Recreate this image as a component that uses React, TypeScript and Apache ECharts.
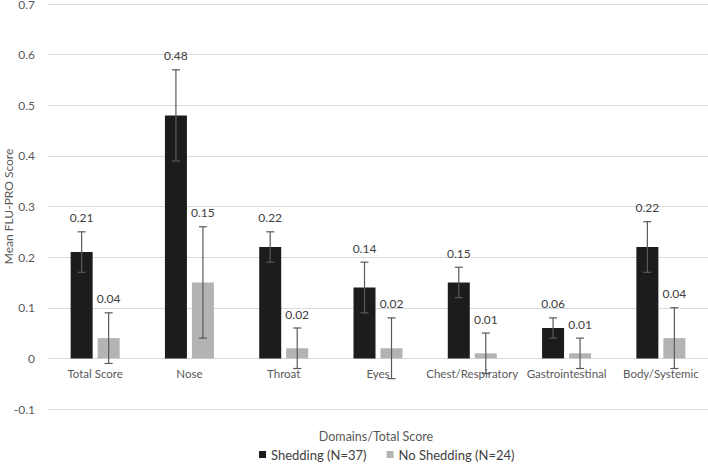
import React, { useEffect, useRef } from "react";
import * as echarts from "echarts";

const categories = ["Total Score", "Nose", "Throat", "Eyes", "Chest/Respiratory", "Gastrointestinal", "Body/Systemic"];
const sheddingMean = [0.21, 0.48, 0.22, 0.14, 0.15, 0.06, 0.22];
const sheddingLow = [0.17, 0.39, 0.19, 0.09, 0.12, 0.04, 0.17];
const sheddingHigh = [0.25, 0.57, 0.25, 0.19, 0.18, 0.08, 0.27];
const noSheddingMean = [0.04, 0.15, 0.02, 0.02, 0.01, 0.01, 0.04];
const noSheddingLow = [-0.01, 0.04, -0.02, -0.04, -0.03, -0.02, -0.02];
const noSheddingHigh = [0.09, 0.26, 0.06, 0.08, 0.05, 0.04, 0.10];
const yTicks = { min: -0.1, max: 0.7, interval: 0.1 };

const FONT = "Lato";
const BAR_W = 22;
const BAR_GAP_PX = 5;
const GRID = { left: 48, right: 0, top: 4, bottom: 59 };
const H = 468;

function errorSeries(name: string, mean: number[], low: number[], high: number[], offset: number) {
  return {
    type: "custom",
    name: name + " err",
    z: 5,
    silent: true,
    data: categories.map((_, i) => [i, low[i], high[i], mean[i]]),
    renderItem: (params: any, api: any) => {
      const i = api.value(0);
      const lo = api.coord([i, api.value(1)]);
      const hi = api.coord([i, api.value(2)]);
      const x = lo[0] + offset;
      const cap = 4;
      const st = { stroke: "#595959", lineWidth: 1.2 };
      return {
        type: "group",
        children: [
          { type: "line", shape: { x1: x, y1: lo[1], x2: x, y2: hi[1] }, style: st },
          { type: "line", shape: { x1: x - cap, y1: lo[1], x2: x + cap, y2: lo[1] }, style: st },
          { type: "line", shape: { x1: x - cap, y1: hi[1], x2: x + cap, y2: hi[1] }, style: st },
          {
            type: "text",
            style: {
              text: api.value(3).toFixed(2),
              x: x,
              y: hi[1] - 8,
              align: "center",
              verticalAlign: "bottom",
              fill: "#404040",
              font: `12px ${FONT}`,
            },
          },
        ],
      };
    },
  };
}

export default function App() {
  const ref = useRef<HTMLDivElement>(null);
  useEffect(() => {
    document.body.style.margin = "0";
    if (!ref.current) return;
    const chart = echarts.init(ref.current, undefined, { renderer: "svg" });
    const off = (BAR_W + BAR_GAP_PX) / 2;
    const gridH = H - GRID.top - GRID.bottom;
    const zeroOffset = -gridH * (0 - yTicks.min) / (yTicks.max - yTicks.min);
    chart.setOption({
      animation: false,
      backgroundColor: "#ffffff",
      textStyle: { fontFamily: FONT },
      grid: { ...GRID, containLabel: false, outerBoundsMode: "none" },
      legend: {
        top: 443,
        left: 254,
        itemWidth: 7,
        itemHeight: 7,
        itemGap: 20,
        icon: "rect",
        textStyle: { color: "#404040", fontSize: 13, fontFamily: FONT },
        data: ["Shedding (N=37)", "No Shedding (N=24)"],
      },
      graphic: [
        {
          type: "text",
          x: 376,
          y: 436,
          style: {
            text: "Domains/Total Score",
            fill: "#595959",
            font: `12.5px ${FONT}`,
            align: "center",
            verticalAlign: "middle",
          },
        },
      ],
      xAxis: {
        type: "category",
        data: categories,
        offset: zeroOffset,
        axisLine: { onZero: false, lineStyle: { color: "#d9d9d9" } },
        axisTick: { show: false },
        axisLabel: { color: "#595959", fontSize: 11.5, margin: 9, interval: 0 },
      },
      yAxis: {
        type: "value",
        min: yTicks.min,
        max: yTicks.max,
        interval: yTicks.interval,
        name: "Mean FLU-PRO Score",
        nameLocation: "middle",
        nameGap: 34,
        nameMoveOverlap: false,
        nameTextStyle: { color: "#595959", fontSize: 12 },
        axisLine: { show: false },
        axisTick: { show: false },
        axisLabel: {
          color: "#595959",
          fontSize: 12,
          margin: 13,
          formatter: (v: number) => String(Math.round(v * 10) / 10),
        },
        splitLine: { lineStyle: { color: "#d9d9d9", width: 1 } },
      },
      series: [
        {
          type: "bar",
          name: "Shedding (N=37)",
          data: sheddingMean,
          barWidth: BAR_W,
          barGap: `${(BAR_GAP_PX / BAR_W) * 100}%`,
          itemStyle: { color: "#1c1c1c" },
        },
        {
          type: "bar",
          name: "No Shedding (N=24)",
          data: noSheddingMean,
          barWidth: BAR_W,
          itemStyle: { color: "#b3b3b3" },
        },
        errorSeries("Shedding", sheddingMean, sheddingLow, sheddingHigh, -off),
        errorSeries("No Shedding", noSheddingMean, noSheddingLow, noSheddingHigh, off),
      ],
    });
    return () => chart.dispose();
  }, []);
  return <div ref={ref} style={{ width: 708, height: 468 }} />;
}
